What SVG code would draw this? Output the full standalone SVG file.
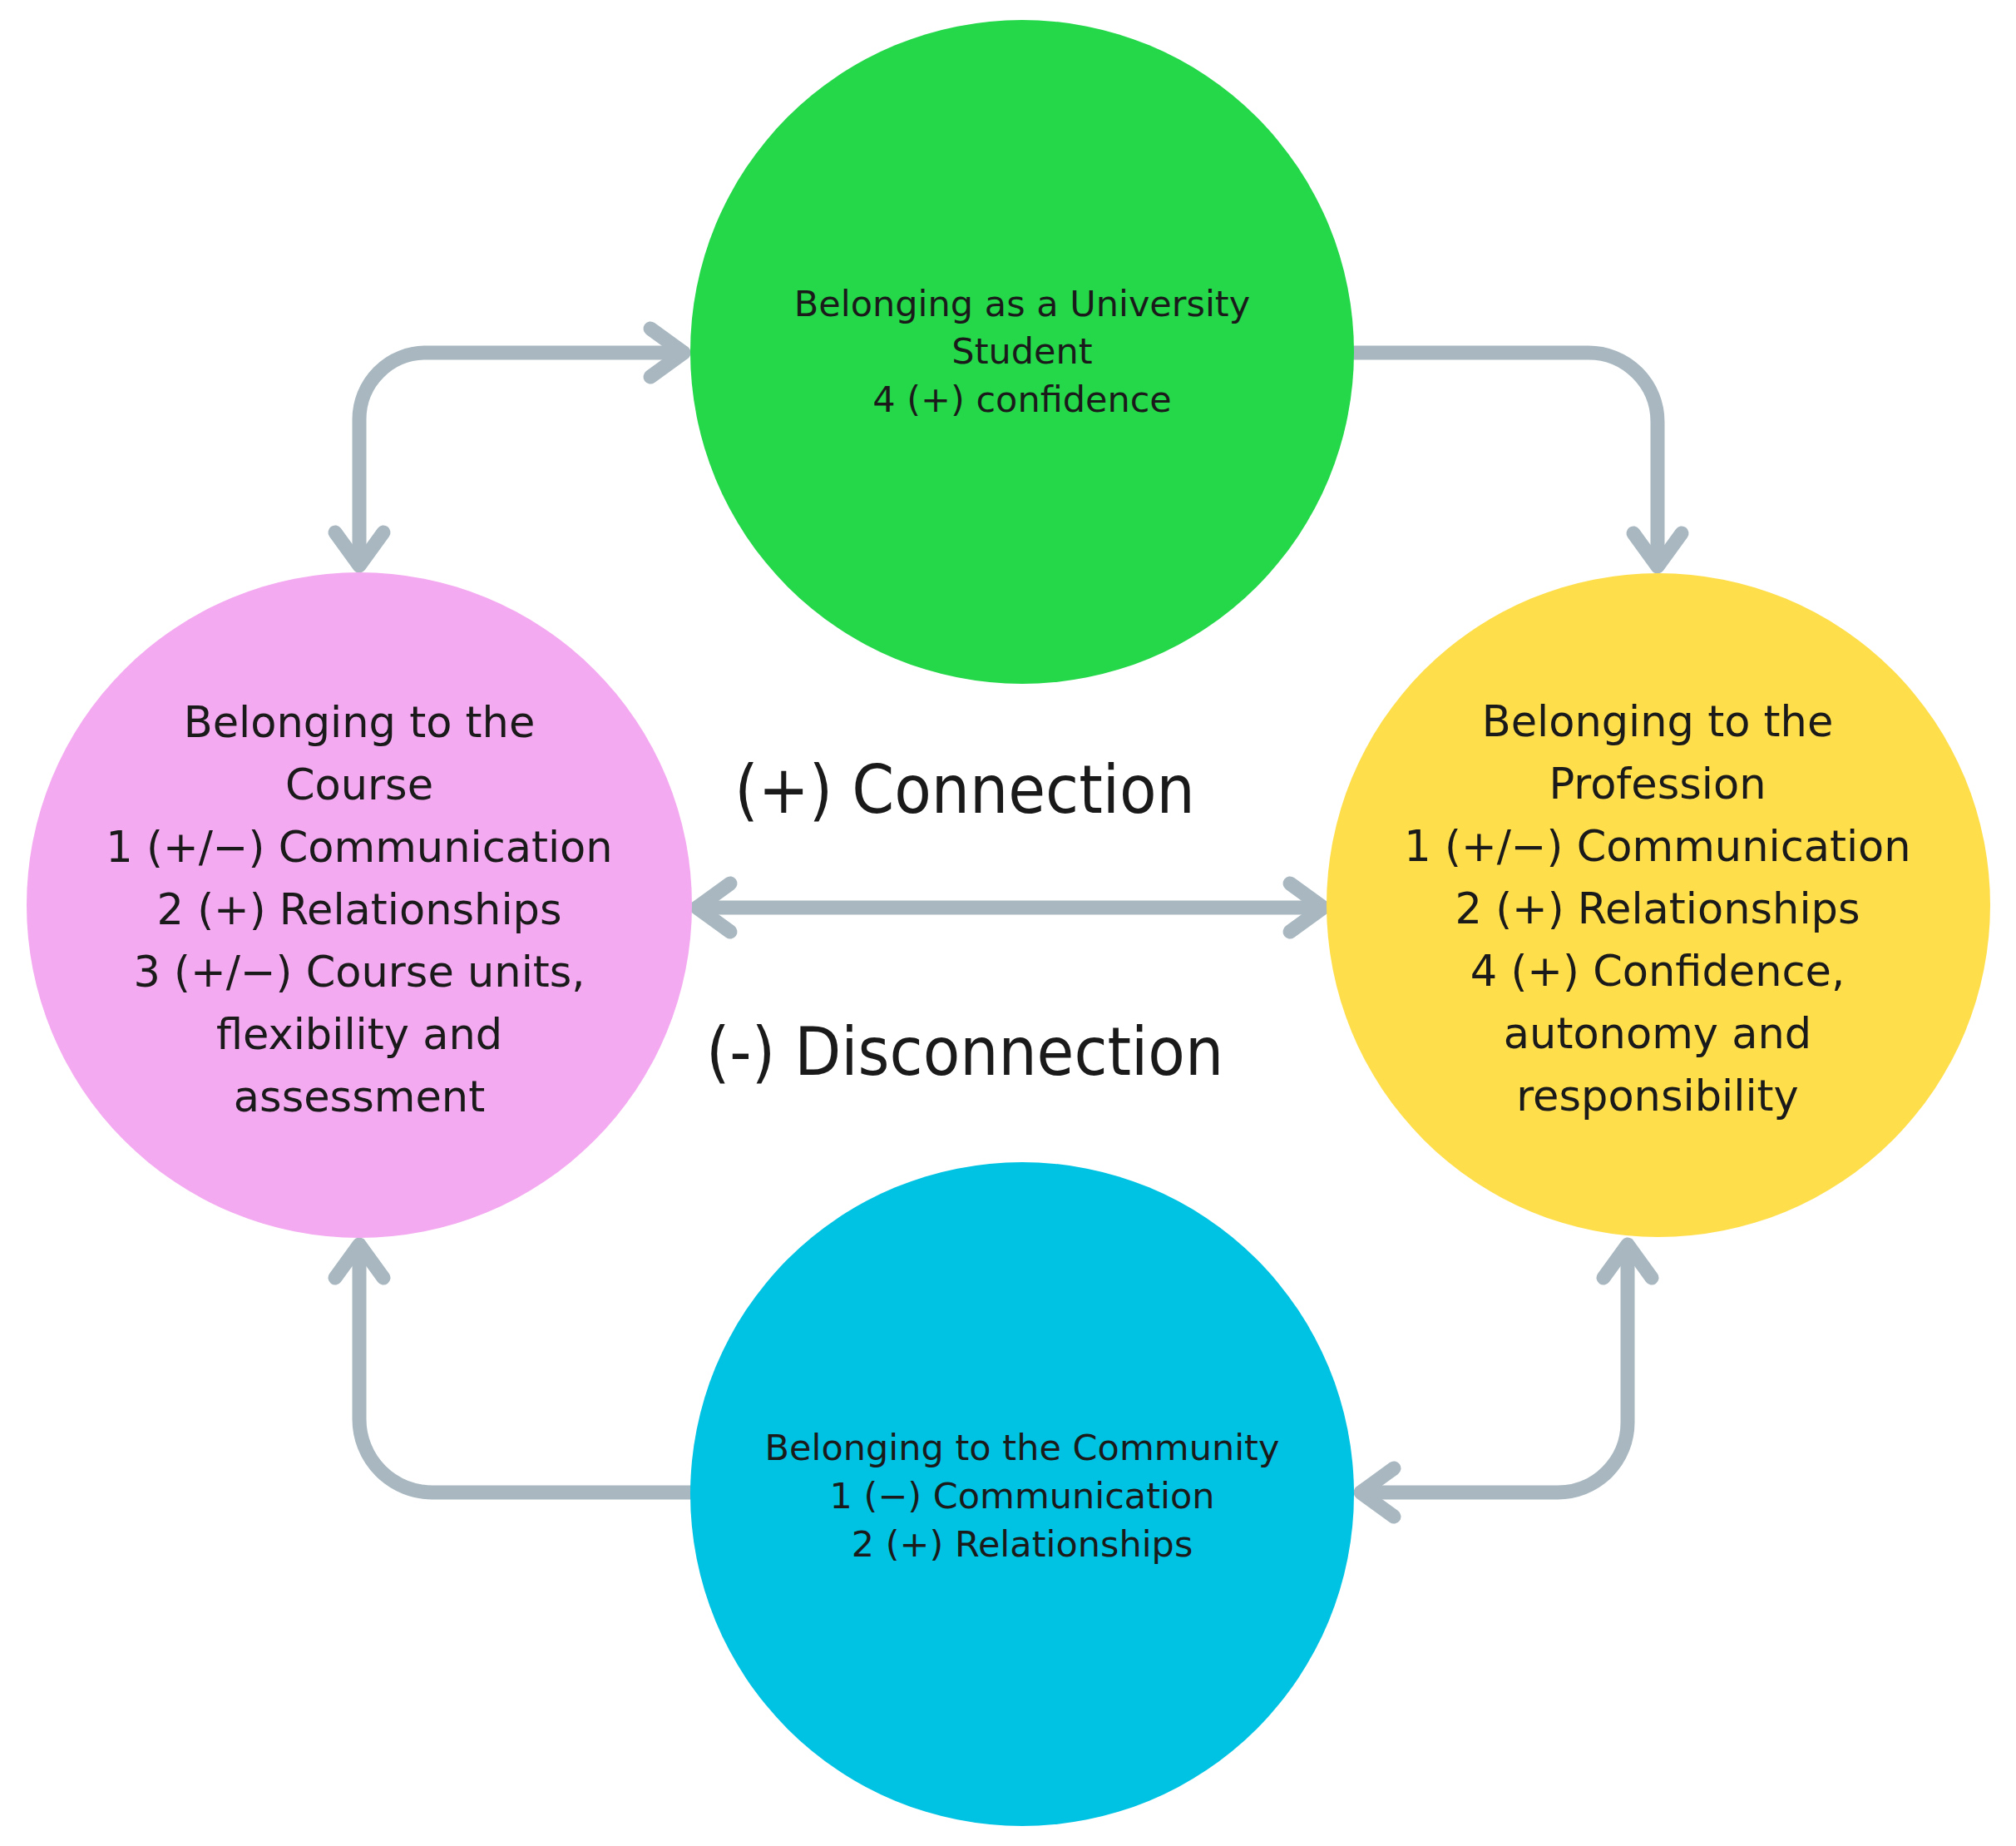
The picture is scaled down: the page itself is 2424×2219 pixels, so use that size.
<svg xmlns="http://www.w3.org/2000/svg" xmlns:xlink="http://www.w3.org/1999/xlink" width="2424" height="2219" viewBox="0 0 2424 2219">
<style>
.bg{fill:#ffffff}
.t{font-family:"DejaVu Sans","Noto Sans",sans-serif;fill:#1a1a1a;text-anchor:middle}
.big{font-size:51px}
.small{font-size:43px}
.lab{font-family:"DejaVu Sans Condensed","DejaVu Sans",sans-serif;font-stretch:condensed;font-size:81px;fill:#1a1a1a;text-anchor:middle}
.ln{fill:none;stroke:#a8b7c0;stroke-width:17;stroke-linecap:round;stroke-linejoin:round}
</style>
<defs>
<path id="chev" d="M-40,-29 L0,0 L-40,29" class="ln"/>
</defs>
<rect class="bg" x="0" y="0" width="2424" height="2219"/>
<g id="connectors">
<path class="ln" d="M432,678 V504 A80,80 0 0 1 512,424 H822"/>
<use xlink:href="#chev" href="#chev" transform="translate(822,424)"/>
<use xlink:href="#chev" href="#chev" transform="translate(432,680) rotate(90)"/>
<path class="ln" d="M1628,424 H1910 A83,83 0 0 1 1993,507 V680"/>
<use xlink:href="#chev" href="#chev" transform="translate(1993,681) rotate(90)"/>
<path class="ln" d="M838,1091 H1590"/>
<use xlink:href="#chev" href="#chev" transform="translate(1591,1091)"/>
<use xlink:href="#chev" href="#chev" transform="translate(838,1091) rotate(180)"/>
<path class="ln" d="M830,1794 H520 A88,88 0 0 1 432,1706 V1497"/>
<use xlink:href="#chev" href="#chev" transform="translate(432,1496) rotate(-90)"/>
<path class="ln" d="M1957,1497 V1710 A84,84 0 0 1 1873,1794 H1637"/>
<use xlink:href="#chev" href="#chev" transform="translate(1957,1496) rotate(-90)"/>
<use xlink:href="#chev" href="#chev" transform="translate(1636,1794) rotate(180)"/>
</g>
<g id="node-university">
<circle cx="1229" cy="423" r="399" fill="#24d84a"/>
<text class="t small" x="1229" y="380">Belonging as a University</text>
<text class="t small" x="1229" y="437">Student</text>
<text class="t small" x="1229" y="495">4 (+) confidence</text>
</g>
<g id="node-course">
<circle cx="432" cy="1088" r="400" fill="#f4aaf0"/>
<text class="t big" x="432" y="886">Belonging to the</text>
<text class="t big" x="432" y="961">Course</text>
<text class="t big" x="432" y="1036">1 (+/−) Communication</text>
<text class="t big" x="432" y="1111">2 (+) Relationships</text>
<text class="t big" x="432" y="1186">3 (+/−) Course units,</text>
<text class="t big" x="432" y="1261">flexibility and</text>
<text class="t big" x="432" y="1336">assessment</text>
</g>
<g id="node-profession">
<circle cx="1994" cy="1088" r="399" fill="#ffde4c"/>
<text class="t big" x="1993" y="885">Belonging to the</text>
<text class="t big" x="1993" y="960">Profession</text>
<text class="t big" x="1993" y="1035">1 (+/−) Communication</text>
<text class="t big" x="1993" y="1110">2 (+) Relationships</text>
<text class="t big" x="1993" y="1185">4 (+) Confidence,</text>
<text class="t big" x="1993" y="1260">autonomy and</text>
<text class="t big" x="1993" y="1335">responsibility</text>
</g>
<g id="node-community">
<circle cx="1229" cy="1796" r="399" fill="#00c3e3"/>
<text class="t small" x="1229" y="1755">Belonging to the Community</text>
<text class="t small" x="1229" y="1813">1 (−) Communication</text>
<text class="t small" x="1229" y="1871">2 (+) Relationships</text>
</g>
<g id="labels">
<text class="lab" x="1160" y="977">(+) Connection</text>
<text class="lab" x="1160" y="1292">(-) Disconnection</text>
</g>
</svg>
